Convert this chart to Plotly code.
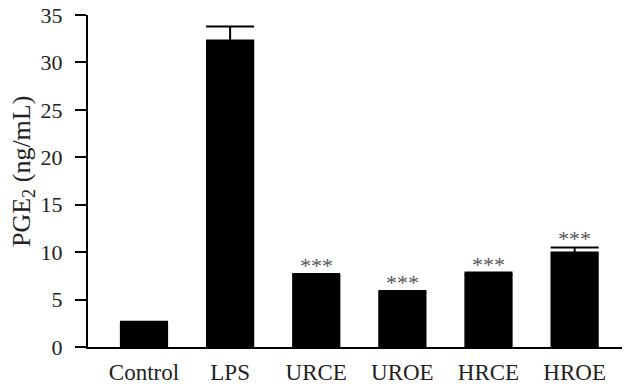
import plotly.graph_objects as go

categories = ["Control", "LPS", "URCE", "UROE", "HRCE", "HROE"]
values = [2.6, 32.3, 7.6, 5.8, 7.7, 9.95]
errors = [0.05, 1.5, 0.1, 0.1, 0.15, 0.55]
signif = ["", "", "***", "***", "***", "***"]
y_ticks = [0, 5, 10, 15, 20, 25, 30, 35]

FONT = "Liberation Serif, Times New Roman, serif"

fig = go.Figure()
fig.add_trace(go.Bar(
    x=categories, y=values,
    marker=dict(color="black", line=dict(width=0)),
    width=0.56,
    error_y=dict(type="data", array=errors, arrayminus=[0]*len(errors),
                 symmetric=False, color="black", thickness=2, width=24),
))

for c, v, e, s in zip(categories, values, errors, signif):
    if s:
        fig.add_annotation(x=c, y=v + e, text=s, showarrow=False,
                           yanchor="bottom", yshift=-6,
                           font=dict(family=FONT, size=22, color="#555555"))

fig.add_annotation(xref="paper", yref="paper", x=0, y=0.5, xshift=-65, yshift=9,
                   xanchor="center", yanchor="middle",
                   text="PGE<sub>2</sub> (ng/mL)", textangle=-90, showarrow=False,
                   font=dict(family=FONT, size=26, color="#222222"))

fig.update_layout(
    width=625, height=386,
    margin=dict(l=88, r=3, t=15, b=39),
    plot_bgcolor="white", paper_bgcolor="white",
    showlegend=False,
    font=dict(family=FONT, size=23, color="#222222"),
    xaxis=dict(range=[-0.65, 5.55], showline=True, linecolor="black", linewidth=2,
               ticks="", showgrid=False, tickfont=dict(size=23), automargin=False,
               ticklabelstandoff=3),
    yaxis=dict(range=[0, 35], tickvals=y_ticks, showline=True, linecolor="black",
               linewidth=2, ticks="outside", ticklen=11, tickwidth=2, tickcolor="black",
               showgrid=False, zeroline=False, tickfont=dict(size=22), automargin=False,
               ticklabelstandoff=8),
)

fig.write_html("out.html", config={"displayModeBar": False},
               post_script="document.body.style.margin='0';")
